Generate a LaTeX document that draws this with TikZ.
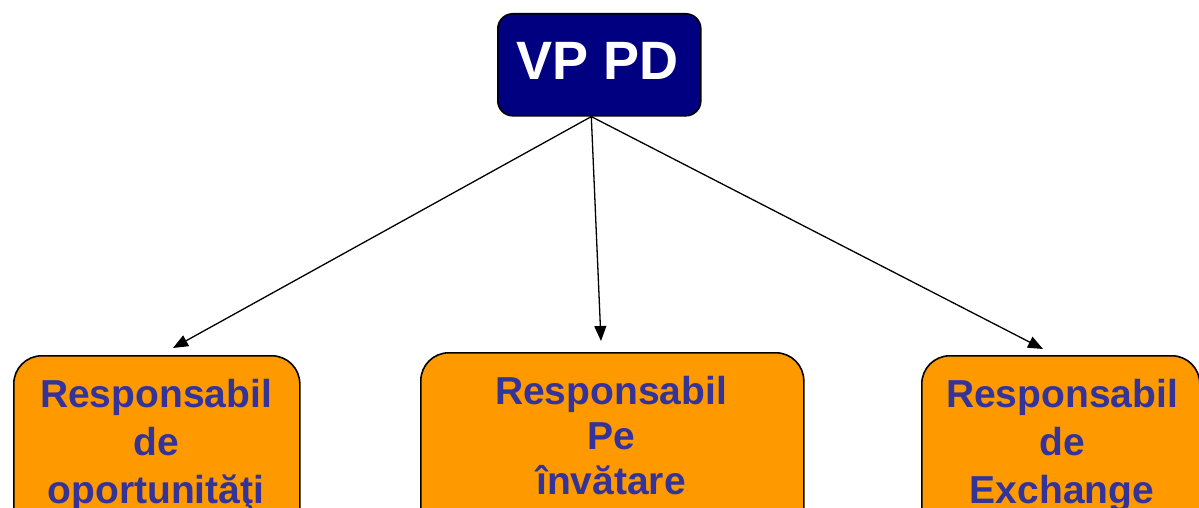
\documentclass[tikz,border=0pt]{standalone}
\usepackage{fontspec}
\setmainfont{Liberation Sans}
\usetikzlibrary{arrows.meta}
\definecolor{navy}{RGB}{0,0,128}
\definecolor{orng}{RGB}{255,153,0}
\definecolor{txtblue}{RGB}{51,51,153}
\tikzset{
  topbox/.style={draw=black, line width=1.6pt, fill=navy, rounded corners=15pt, minimum width=203pt, minimum height=102pt, inner sep=0pt, anchor=north west},
  subbox/.style={draw=black, line width=1.6pt, fill=orng, rounded corners=28pt, minimum height=260pt, inner sep=0pt, anchor=north west},
  toptext/.style={text=white, font=\bfseries\fontsize{54}{60}\selectfont, inner sep=0pt, anchor=base},
  subtext/.style={text=txtblue, font=\bfseries\fontsize{39}{48}\selectfont, align=center, inner sep=0pt, anchor=north},
  conn/.style={line width=1.3pt, -{Triangle[length=15pt,width=12pt]}}
}
\begin{document}
\begin{tikzpicture}[x=1pt,y=-1pt]
\useasboundingbox (0,0) rectangle (1199,508);
\clip (0,0) rectangle (1199,508);
\node[topbox] (top) at (497,13) {};
\node[toptext] (toptxt) at (598,80) {VP PD};
\node[subbox, minimum width=286pt] (left) at (13,355) {};
\node[subbox, minimum width=383pt] (mid) at (420,352) {};
\node[subbox, minimum width=278pt] (right) at (921,355) {};
\node[subtext] (lefttxt) at (156,379) {Responsabil\\de\\oportunităţi};
\node[subtext, font=\bfseries\fontsize{39}{45}\selectfont] (midtxt) at (611,376) {Responsabil\\Pe\\învătare};
\node[subtext] (righttxt) at (1062,379) {Responsabil\\de\\Exchange};
\coordinate (src) at ([xshift=-8pt]top.south);
\coordinate (lt) at (173,348);
\coordinate (mt) at (601,341);
\coordinate (rt) at (1043,349);
\draw[conn] (src) -- (lt);
\draw[conn] (src) -- (mt);
\draw[conn] (src) -- (rt);
\end{tikzpicture}
\end{document}
